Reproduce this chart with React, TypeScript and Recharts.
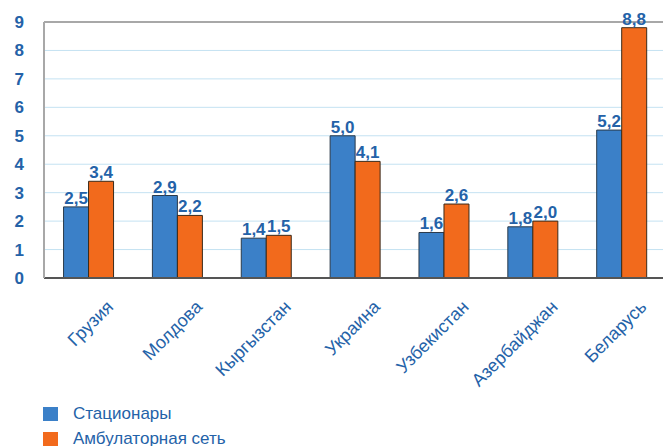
import { BarChart, Bar, XAxis, YAxis, CartesianGrid, LabelList, ReferenceLine } from "recharts";

const countries = ["Грузия", "Молдова", "Кыргызстан", "Украина", "Узбекистан", "Азербайджан", "Беларусь"];
const hospital = [2.5, 2.9, 1.4, 5.0, 1.6, 1.8, 5.2];
const outpatient = [3.4, 2.2, 1.5, 4.1, 2.6, 2.0, 8.8];
const yTicks = [0, 1, 2, 3, 4, 5, 6, 7, 8, 9];

const BLUE = "#3b80c8";
const ORANGE = "#f26a1c";
const TEXT = "#2462a8";
const FONT = "'Liberation Sans', Arial, sans-serif";

const data = countries.map((name, i) => ({
  name,
  hospital: hospital[i],
  outpatient: outpatient[i],
}));

const fmt = (v: any) => Number(v).toFixed(1).replace(".", ",");

function CountryTick({ x, y, payload }: any) {
  const ax = x + 26;
  const ay = y + 22;
  return (
    <text
      x={ax}
      y={ay}
      textAnchor="end"
      fill={TEXT}
      fontSize={18}
      fontFamily={FONT}
      transform={`rotate(-45, ${ax}, ${ay})`}
    >
      {payload.value}
    </text>
  );
}

function LegendBox() {
  const items = [
    { label: "Стационары", color: BLUE },
    { label: "Амбулаторная сеть", color: ORANGE },
  ];
  return (
    <div style={{ position: "absolute", left: 43, top: 401, fontFamily: FONT }}>
      {items.map((it) => (
        <div key={it.label} style={{ display: "flex", alignItems: "center", height: 25 }}>
          <span style={{ width: 15, height: 14, background: it.color, display: "inline-block", marginRight: 15 }} />
          <span style={{ color: TEXT, fontSize: 17 }}>{it.label}</span>
        </div>
      ))}
    </div>
  );
}

export default function App() {
  return (
    <div style={{ position: "absolute", left: 0, top: 0, width: 663, height: 446, overflow: "hidden", background: "#fff" }}>
      <BarChart
        width={672}
        height={446}
        data={data}
        margin={{ top: 22, right: 6, bottom: 68, left: 0 }}
        barCategoryGap="22%"
        barGap={0}
      >
        <CartesianGrid vertical={false} stroke="#c4e2f2" />
        <ReferenceLine y={9} stroke="#a8a8a8" strokeWidth={2} />
        <XAxis
          dataKey="name"
          tick={<CountryTick />}
          tickLine={false}
          axisLine={{ stroke: "#555", strokeWidth: 2 }}
          interval={0}
          height={100}
        />
        <YAxis
          domain={[0, 9]}
          ticks={yTicks}
          interval={0}
          width={44}
          tickLine={false}
          axisLine={{ stroke: "#a8a8a8", strokeWidth: 2 }}
          tickMargin={14}
          tick={{ fill: TEXT, fontSize: 17, fontWeight: 700, fontFamily: FONT }}
        />
        <Bar dataKey="hospital" fill={BLUE} stroke="#2a3a4a" strokeWidth={1} isAnimationActive={false}>
          <LabelList dataKey="hospital" position="top" formatter={fmt} fill={TEXT} fontSize={17} fontWeight={700} fontFamily={FONT} offset={3} />
        </Bar>
        <Bar dataKey="outpatient" fill={ORANGE} stroke="#3a2a1a" strokeWidth={1} isAnimationActive={false}>
          <LabelList dataKey="outpatient" position="top" formatter={fmt} fill={TEXT} fontSize={17} fontWeight={700} fontFamily={FONT} offset={3} />
        </Bar>
      </BarChart>
      <LegendBox />
    </div>
  );
}
